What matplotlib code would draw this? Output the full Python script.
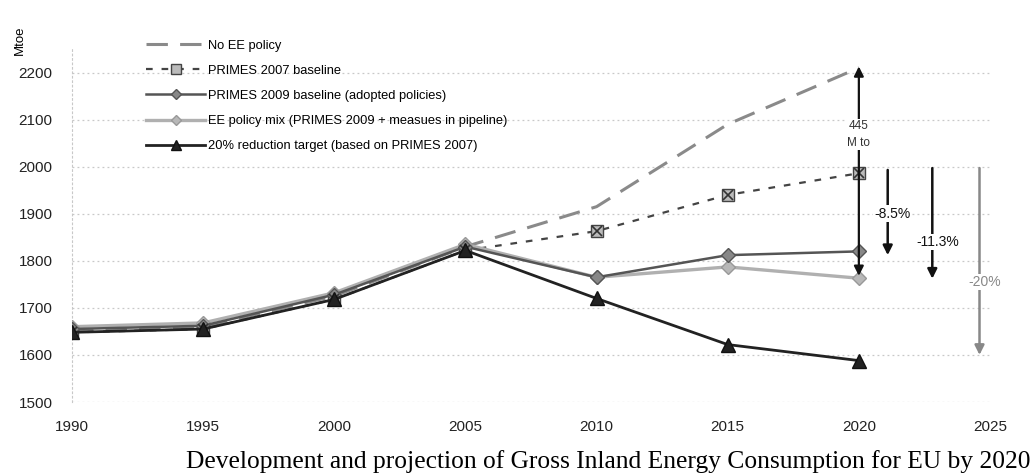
import matplotlib
matplotlib.use("Agg")
import matplotlib.pyplot as plt

plt.rcParams["font.family"] = ["Liberation Sans", "DejaVu Sans"]

years = [1990, 1995, 2000, 2005, 2010, 2015, 2020]
no_ee = [1650, 1660, 1725, 1830, 1915, 2090, 2210]
primes07 = [1648, 1655, 1718, 1822, 1863, 1940, 1986]
primes09 = [1655, 1662, 1728, 1830, 1765, 1812, 1820]
ee_mix = [1660, 1668, 1732, 1835, 1765, 1787, 1763]
target = [1648, 1655, 1718, 1822, 1720, 1622, 1588]

labels = ["No EE policy", "PRIMES 2007 baseline", "PRIMES 2009 baseline (adopted policies)",
          "EE policy mix (PRIMES 2009 + measues in pipeline)",
          "20% reduction target (based on PRIMES 2007)"]

# reduction arrows: (x, top, bottom, label, colour, label_y)
reductions = [(2021.1, 1993, 1812, "-8.5%", "#111111", 1900),
              (2022.8, 1997, 1762, "-11.3%", "#111111", 1840),
              (2024.6, 1997, 1600, "-20%", "#888888", 1755)]

fig = plt.figure(figsize=(10.35, 4.76), dpi=100)
ax = fig.add_axes([72 / 1035, 1 - 402 / 476, (990 - 72) / 1035, (402 - 49) / 476])

ax.plot(years, no_ee, color="#8a8a8a", lw=2.2, dashes=(7, 4), label=labels[0], zorder=3)
ax.plot(years, primes07, color="#444444", lw=1.6, dashes=(3, 4), marker="s", ms=9,
        mfc="#bbbbbb", mec="#444444", label=labels[1], zorder=3)
ax.plot(years, primes07, ls="none", marker="x", ms=7, mec="#333333", mew=1.2, zorder=4)
ax.plot(years, ee_mix, color="#b0b0b0", lw=2.4, marker="D", ms=7, mfc="#b8b8b8",
        mec="#999999", label=labels[3], zorder=3)
ax.plot(years, primes09, color="#555555", lw=1.8, marker="D", ms=7, mfc="#888888",
        mec="#555555", label=labels[2], zorder=3)
ax.plot(years, target, color="#222222", lw=2.0, marker="^", ms=10, mfc="#222222",
        mec="#111111", label=labels[4], zorder=4)

handles, labs = ax.get_legend_handles_labels()
order = [labs.index(l) for l in labels]
ax.legend([handles[i] for i in order], [labs[i] for i in order], loc="upper left",
          bbox_to_anchor=(140 / 1035, 1 - 33 / 476), bbox_transform=fig.transFigure,
          frameon=False, fontsize=9.3, handlelength=4.5, handletextpad=0.3,
          labelspacing=1.02, borderpad=0, markerscale=0.75)

# 445 Mtoe double arrow
ax.annotate("", xy=(2020, 2213), xytext=(2020, 1768),
            arrowprops=dict(arrowstyle="<|-|>", color="#111111", lw=1.6,
                            mutation_scale=14, shrinkA=0, shrinkB=0), zorder=5)
ax.text(2020, 2068, "445\nM to", ha="center", va="center", fontsize=8.5,
        color="#333333", linespacing=1.5, zorder=6,
        bbox=dict(facecolor="white", edgecolor="none", pad=1))

for x, top, bot, txt, col, ty in reductions:
    ax.annotate("", xy=(x, bot), xytext=(x, top),
                arrowprops=dict(arrowstyle="-|>", color=col, lw=1.8,
                                mutation_scale=14, shrinkA=0, shrinkB=0), zorder=5)
    ax.text(x + 0.2, ty, txt, ha="center", va="center", fontsize=10, color=col,
            zorder=6, bbox=dict(facecolor="white", edgecolor="none", pad=1))

ax.set_xlim(1990, 2025)
ax.set_ylim(1500, 2250)
ax.set_xticks(range(1990, 2026, 5))
ax.set_yticks(range(1500, 2201, 100))
ax.tick_params(length=0, labelsize=11, colors="#222222")
ax.tick_params(axis="x", pad=13)
ax.tick_params(axis="y", pad=14)
ax.grid(axis="y", color="#c8c8c8", ls=(0, (1.5, 2.5)), lw=0.9)
for s in ["top", "right", "bottom"]:
    ax.spines[s].set_visible(False)
ax.spines["left"].set_color("#c8c8c8")
ax.spines["left"].set_linestyle((0, (1.5, 2.5)))

fig.text(20 / 1035, 1 - 40 / 476, "Mtoe", rotation=90, ha="center", va="center", fontsize=9.5)
fig.text(1030 / 1035, 1 - 462 / 476,
         "Development and projection of Gross Inland Energy Consumption for EU by 2020",
         ha="right", va="center", fontsize=18.4, family=["Liberation Serif", "DejaVu Serif"])

fig.savefig("out.png", dpi=100)
